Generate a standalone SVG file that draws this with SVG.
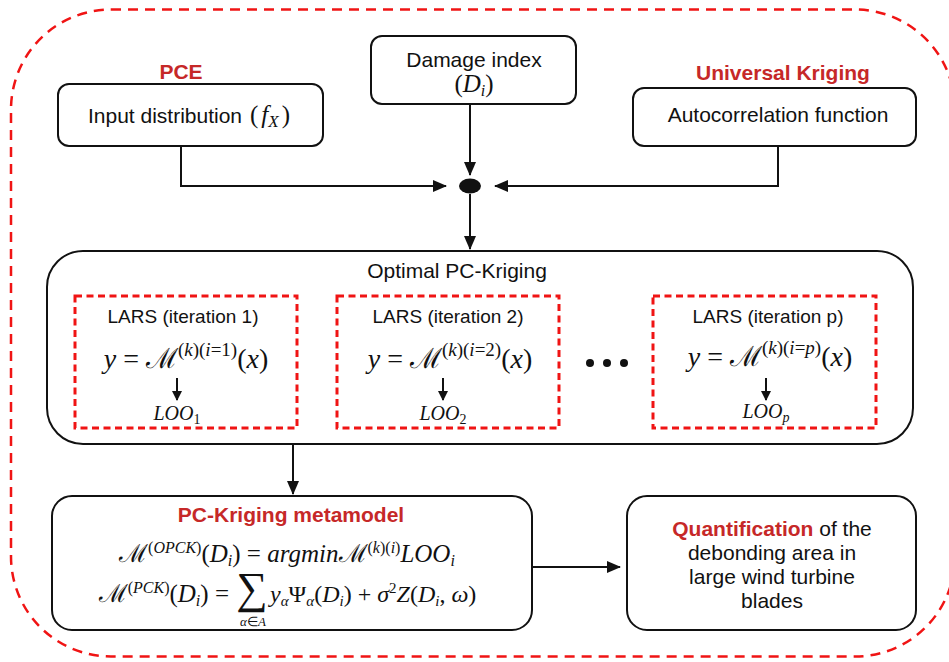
<svg xmlns="http://www.w3.org/2000/svg" width="949" height="662" viewBox="0 0 949 662">
<defs>
<style>
.box{fill:#fff;stroke:#111;stroke-width:2}
.lars{fill:none;stroke:#f01414;stroke-width:3;stroke-dasharray:7 4.5}
.frame{fill:none;stroke:#f01414;stroke-width:2.5;stroke-dasharray:10 7}
.t{font-family:"Liberation Sans",Arial,sans-serif;font-size:21px;fill:#111;text-anchor:middle}
.s{font-size:19px}
.red{font-family:"Liberation Sans",Arial,sans-serif;font-size:21px;font-weight:bold;fill:#c62828;text-anchor:middle}
.m{font-family:"Liberation Serif","Times New Roman",serif;fill:#111}
.mid{text-anchor:middle}
.end{text-anchor:end}
.start{text-anchor:start}
.i{font-style:italic}
.c{stroke:#111;stroke-width:2;fill:none}
</style>
<marker id="ah" markerWidth="14" markerHeight="12" refX="13" refY="6" orient="auto" markerUnits="userSpaceOnUse"><path d="M0,0 L14,6 L0,12 z" fill="#111"/></marker>
<marker id="ahs" markerWidth="10" markerHeight="10" refX="9" refY="5" orient="auto" markerUnits="userSpaceOnUse"><path d="M0,0 L10,5 L0,10 z" fill="#111"/></marker>
</defs>
<rect width="949" height="662" fill="#fff"/>
<rect class="frame" x="11" y="9.5" width="944" height="647" rx="100" ry="100"/>

<g id="pce-label"><text class="red" x="181" y="79">PCE</text></g>
<g id="uk-label"><text class="red" x="783" y="80">Universal Kriging</text></g>

<g id="input">
<rect class="box" x="58" y="84" width="265" height="62" rx="11"/>
<text class="t" x="165" y="123">Input distribution</text>
<text class="m start" x="250" y="123" font-size="25">(<tspan class="i" dx="3">f</tspan><tspan class="i" font-size="17" dy="4">X</tspan><tspan dy="-4" dx="3">)</tspan></text>
</g>

<g id="damage">
<rect class="box" x="371" y="36" width="205" height="68" rx="11"/>
<text class="t" x="474" y="67">Damage index</text>
<text class="m mid" x="474" y="92" font-size="25">(<tspan class="i">D</tspan><tspan class="i" font-size="16" dy="4">i</tspan><tspan dy="-4">)</tspan></text>
</g>

<g id="autocorr">
<rect class="box" x="633" y="88" width="283" height="58" rx="11"/>
<text class="t" x="778" y="122">Autocorrelation function</text>
</g>

<g id="junction"><ellipse cx="470" cy="186" rx="11" ry="7.5" fill="#111"/></g>

<g id="optimal">
<rect class="box" x="47" y="251" width="866" height="193" rx="36"/>
<text class="t" x="457" y="278">Optimal PC-Kriging</text>
</g>

<g id="lars1">
<rect class="lars" x="75" y="296" width="222" height="132"/>
<text class="t s" x="183" y="323">LARS (iteration 1)</text>
<text class="m mid" x="186" y="368" font-size="28"><tspan class="i">y</tspan> = ℳ<tspan font-size="19" dy="-12">(<tspan class="i">k</tspan>)(<tspan class="i">i</tspan>=1)</tspan><tspan dy="12">(<tspan class="i">x</tspan>)</tspan></text>
<text class="m mid" x="177" y="420" font-size="20"><tspan class="i">LOO</tspan><tspan font-size="14" dy="4">1</tspan></text>
</g>

<g id="lars2">
<rect class="lars" x="337" y="296" width="222" height="132"/>
<text class="t s" x="448" y="323">LARS (iteration 2)</text>
<text class="m mid" x="450" y="368" font-size="28"><tspan class="i">y</tspan> = ℳ<tspan font-size="19" dy="-12">(<tspan class="i">k</tspan>)(<tspan class="i">i</tspan>=2)</tspan><tspan dy="12">(<tspan class="i">x</tspan>)</tspan></text>
<text class="m mid" x="443" y="420" font-size="20"><tspan class="i">LOO</tspan><tspan font-size="14" dy="4">2</tspan></text>
</g>

<g id="dots">
<circle cx="590" cy="363" r="4" fill="#111"/>
<circle cx="607" cy="363" r="4" fill="#111"/>
<circle cx="624" cy="363" r="4" fill="#111"/>
</g>

<g id="lars3">
<rect class="lars" x="653" y="296" width="223" height="132"/>
<text class="t s" x="768" y="323">LARS (iteration p)</text>
<text class="m mid" x="770" y="366" font-size="28"><tspan class="i">y</tspan> = ℳ<tspan font-size="19" dy="-12">(<tspan class="i">k</tspan>)(<tspan class="i">i</tspan>=<tspan class="i">p</tspan>)</tspan><tspan dy="12">(<tspan class="i">x</tspan>)</tspan></text>
<text class="m mid" x="766" y="418" font-size="20"><tspan class="i">LOO</tspan><tspan class="i" font-size="14" dy="4">p</tspan></text>
</g>

<g id="metamodel">
<rect class="box" x="52" y="496" width="480" height="134" rx="20"/>
<text class="red" x="291" y="522">PC-Kriging metamodel</text>
<text class="m mid" x="287" y="562" font-size="25">ℳ<tspan font-size="16" dy="-9">(<tspan class="i">OPCK</tspan>)</tspan><tspan dy="9">(<tspan class="i">D</tspan></tspan><tspan class="i" font-size="16" dy="4">i</tspan><tspan dy="-4">) = <tspan class="i">argmin</tspan>ℳ</tspan><tspan font-size="16" dy="-9">(<tspan class="i">k</tspan>)(<tspan class="i">i</tspan>)</tspan><tspan class="i" dy="9">LOO</tspan><tspan class="i" font-size="16" dy="4">i</tspan></text>
<text class="m end" x="229" y="602" font-size="25">ℳ<tspan font-size="16" dy="-9">(<tspan class="i">PCK</tspan>)</tspan><tspan dy="9">(<tspan class="i">D</tspan></tspan><tspan class="i" font-size="16" dy="4">i</tspan><tspan dy="-4">) =</tspan></text>
<text class="m mid" x="252" y="603" font-size="44">∑</text>
<text class="m mid" x="253" y="626" font-size="13"><tspan class="i">α</tspan>∈<tspan class="i">A</tspan></text>
<text class="m start" x="270" y="602" font-size="24"><tspan class="i">y</tspan><tspan class="i" font-size="15" dy="4">α</tspan><tspan dy="-4">Ψ</tspan><tspan class="i" font-size="15" dy="4">α</tspan><tspan dy="-4">(<tspan class="i">D</tspan></tspan><tspan class="i" font-size="15" dy="4">i</tspan><tspan dy="-4">) + <tspan class="i">σ</tspan></tspan><tspan font-size="15" dy="-9">2</tspan><tspan class="i" dy="9">Z</tspan><tspan>(<tspan class="i">D</tspan></tspan><tspan class="i" font-size="15" dy="4">i</tspan><tspan dy="-4">, <tspan class="i">ω</tspan>)</tspan></text>
</g>

<g id="quant">
<rect class="box" x="627" y="496" width="289" height="134" rx="20"/>
<text class="t" x="772" y="536"><tspan font-weight="bold" fill="#c62828">Quantification</tspan> of the</text>
<text class="t" x="772" y="560">debonding area in</text>
<text class="t" x="772" y="584">large wind turbine</text>
<text class="t" x="772" y="608">blades</text>
</g>

<g id="connectors">
<path class="c" d="M181,146 V186 H446" marker-end="url(#ah)"/>
<path class="c" d="M778,146 V186 H495" marker-end="url(#ah)"/>
<path class="c" d="M470,104 V175" marker-end="url(#ah)"/>
<path class="c" d="M470,194 V249" marker-end="url(#ah)"/>
<path class="c" d="M293,444 V494" marker-end="url(#ah)"/>
<path class="c" d="M532,567 H620" marker-end="url(#ah)"/>
<path class="c" d="M177,378 V400" marker-end="url(#ahs)" stroke-width="1.5"/>
<path class="c" d="M443,378 V400" marker-end="url(#ahs)" stroke-width="1.5"/>
<path class="c" d="M766,378 V400" marker-end="url(#ahs)" stroke-width="1.5"/>
</g>
</svg>
